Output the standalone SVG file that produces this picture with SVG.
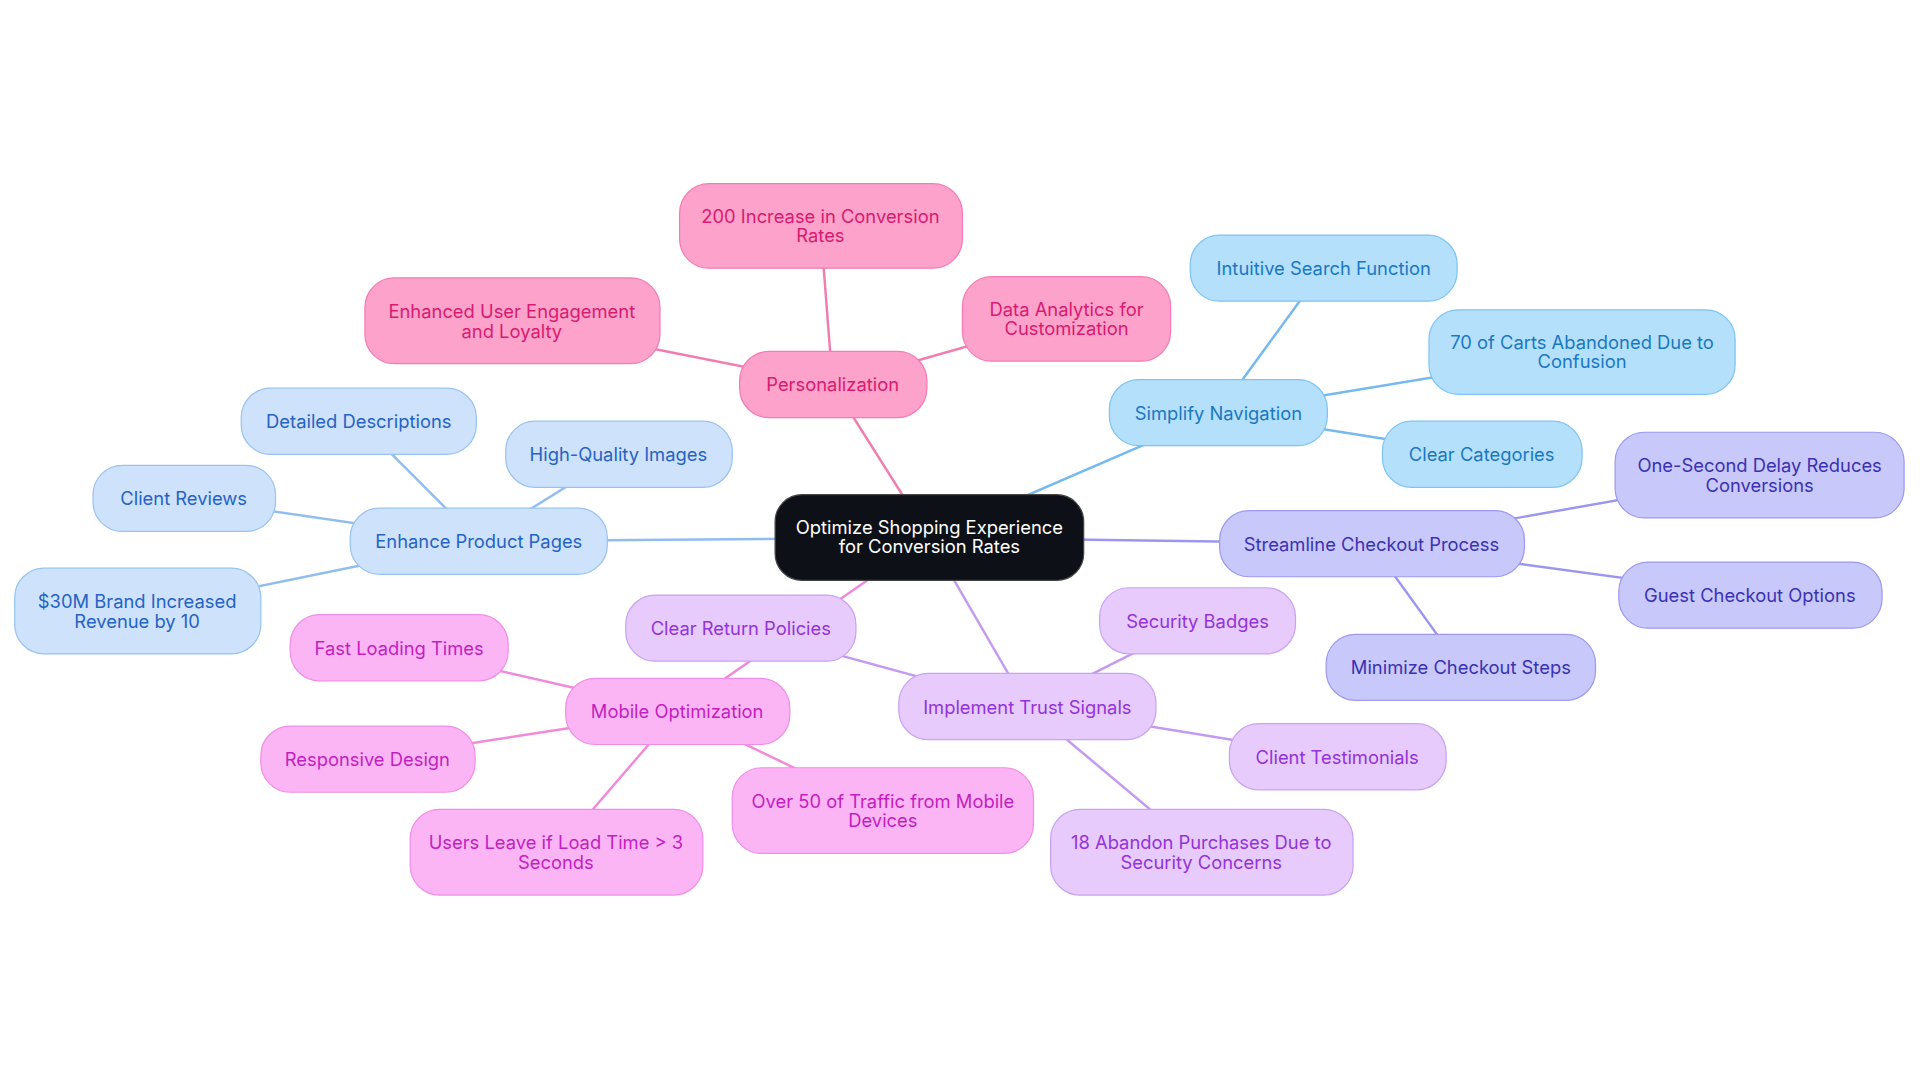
<svg xmlns="http://www.w3.org/2000/svg" width="1920" height="1083" viewBox="0 0 1920 1083">
<style>
text{font-family:Inter,"Noto Sans",sans-serif;font-size:15px;text-anchor:middle;dominant-baseline:central}
.e line{stroke-width:2}
.pk rect{fill:#fda2cb;stroke:#f47bb5}.pk text{fill:#d81b70}
.bl rect{fill:#b5e0fc;stroke:#7cc4f4}.bl text{fill:#1a78c2}
.lv rect{fill:#c9c8fb;stroke:#9e98f0}.lv text{fill:#3a32b0}
.pu rect{fill:#e6cbfc;stroke:#c9a2f3}.pu text{fill:#9333d8}
.mg rect{fill:#fbb5f4;stroke:#f08ee6}.mg text{fill:#c21fc0}
.lb rect{fill:#cfe2fb;stroke:#98c3f0}.lb text{fill:#2563c4}
</style>
<rect width="1920" height="1083" fill="#fff"/>
<g transform="scale(1.2245)">
<g id="connectors" class="e">
<g stroke="#f07cb0"><line x1="759" y1="439" x2="680" y2="314"/><line x1="680" y1="314" x2="670" y2="184"/><line x1="680" y1="314" x2="418" y2="262"/><line x1="680" y1="314" x2="871" y2="260"/></g>
<g stroke="#74b9f0"><line x1="759" y1="439" x2="995" y2="337"/><line x1="995" y1="337" x2="1081" y2="219"/><line x1="995" y1="337" x2="1292" y2="288"/><line x1="995" y1="337" x2="1210" y2="371"/></g>
<g stroke="#9b96ef"><line x1="759" y1="439" x2="1120" y2="444"/><line x1="1120" y1="444" x2="1437" y2="388"/><line x1="1120" y1="444" x2="1429" y2="486"/><line x1="1120" y1="444" x2="1193" y2="545"/></g>
<g stroke="#c49af0"><line x1="759" y1="439" x2="839" y2="577"/><line x1="839" y1="577" x2="978" y2="507"/><line x1="839" y1="577" x2="1092" y2="618"/><line x1="839" y1="577" x2="981" y2="696"/><line x1="839" y1="577" x2="605" y2="513"/></g>
<g stroke="#f08ad8"><line x1="759" y1="439" x2="553" y2="581"/><line x1="553" y1="581" x2="326" y2="529"/><line x1="553" y1="581" x2="300" y2="620"/><line x1="553" y1="581" x2="454" y2="696"/><line x1="553" y1="581" x2="721" y2="662"/></g>
<g stroke="#90bdf0"><line x1="759" y1="439" x2="391" y2="442"/><line x1="391" y1="442" x2="293" y2="344"/><line x1="391" y1="442" x2="505" y2="371"/><line x1="391" y1="442" x2="150" y2="407"/><line x1="391" y1="442" x2="112" y2="499"/></g>
</g>
<g id="center"><rect x="633" y="404" width="252" height="70" rx="22" fill="#0d1117" stroke="#444"/><text x="759" y="430" fill="#fff">Optimize Shopping Experience</text><text x="759" y="446" fill="#fff">for Conversion Rates</text></g>
<g id="personalization" class="pk"><rect x="604" y="287" width="153" height="54" rx="24"/><text x="680" y="314">Personalization</text></g>
<g id="p200" class="pk"><rect x="555" y="150" width="231" height="69" rx="24"/><text x="670" y="176">200 Increase in Conversion</text><text x="670" y="192">Rates</text></g>
<g id="enhanced" class="pk"><rect x="298" y="227" width="241" height="70" rx="24"/><text x="418" y="254">Enhanced User Engagement</text><text x="418" y="270">and Loyalty</text></g>
<g id="data" class="pk"><rect x="786" y="226" width="170" height="69" rx="24"/><text x="871" y="252">Data Analytics for</text><text x="871" y="268">Customization</text></g>
<g id="simplify" class="bl"><rect x="906" y="310" width="178" height="54" rx="24"/><text x="995" y="337">Simplify Navigation</text></g>
<g id="intuitive" class="bl"><rect x="972" y="192" width="218" height="54" rx="24"/><text x="1081" y="219">Intuitive Search Function</text></g>
<g id="carts" class="bl"><rect x="1167" y="253" width="250" height="69" rx="24"/><text x="1292" y="279">70 of Carts Abandoned Due to</text><text x="1292" y="295">Confusion</text></g>
<g id="clearcat" class="bl"><rect x="1129" y="344" width="163" height="54" rx="24"/><text x="1210" y="371">Clear Categories</text></g>
<g id="streamline" class="lv"><rect x="996" y="417" width="249" height="54" rx="24"/><text x="1120" y="444">Streamline Checkout Process</text></g>
<g id="onesec" class="lv"><rect x="1319" y="353" width="236" height="70" rx="24"/><text x="1437" y="380">One-Second Delay Reduces</text><text x="1437" y="396">Conversions</text></g>
<g id="guest" class="lv"><rect x="1322" y="459" width="215" height="54" rx="24"/><text x="1429" y="486">Guest Checkout Options</text></g>
<g id="minimize" class="lv"><rect x="1083" y="518" width="220" height="54" rx="24"/><text x="1193" y="545">Minimize Checkout Steps</text></g>
<g id="trust" class="pu"><rect x="734" y="550" width="210" height="54" rx="24"/><text x="839" y="577">Implement Trust Signals</text></g>
<g id="badges" class="pu"><rect x="898" y="480" width="160" height="54" rx="24"/><text x="978" y="507">Security Badges</text></g>
<g id="testimonials" class="pu"><rect x="1004" y="591" width="177" height="54" rx="24"/><text x="1092" y="618">Client Testimonials</text></g>
<g id="abandon18" class="pu"><rect x="858" y="661" width="247" height="70" rx="24"/><text x="981" y="688">18 Abandon Purchases Due to</text><text x="981" y="704">Security Concerns</text></g>
<g id="returns" class="pu"><rect x="511" y="486" width="188" height="54" rx="24"/><text x="605" y="513">Clear Return Policies</text></g>
<g id="mobile" class="mg"><rect x="462" y="554" width="183" height="54" rx="24"/><text x="553" y="581">Mobile Optimization</text></g>
<g id="fast" class="mg"><rect x="237" y="502" width="178" height="54" rx="24"/><text x="326" y="529">Fast Loading Times</text></g>
<g id="responsive" class="mg"><rect x="213" y="593" width="175" height="54" rx="24"/><text x="300" y="620">Responsive Design</text></g>
<g id="users" class="mg"><rect x="335" y="661" width="239" height="70" rx="24"/><text x="454" y="688">Users Leave if Load Time &gt; 3</text><text x="454" y="704">Seconds</text></g>
<g id="over50" class="mg"><rect x="598" y="627" width="246" height="70" rx="24"/><text x="721" y="654">Over 50 of Traffic from Mobile</text><text x="721" y="670">Devices</text></g>
<g id="enhance" class="lb"><rect x="286" y="415" width="210" height="54" rx="24"/><text x="391" y="442">Enhance Product Pages</text></g>
<g id="detailed" class="lb"><rect x="197" y="317" width="192" height="54" rx="24"/><text x="293" y="344">Detailed Descriptions</text></g>
<g id="images" class="lb"><rect x="413" y="344" width="185" height="54" rx="24"/><text x="505" y="371">High-Quality Images</text></g>
<g id="reviews" class="lb"><rect x="76" y="380" width="149" height="54" rx="24"/><text x="150" y="407">Client Reviews</text></g>
<g id="brand" class="lb"><rect x="12" y="464" width="201" height="70" rx="24"/><text x="112" y="491">$30M Brand Increased</text><text x="112" y="507">Revenue by 10</text></g>
</g>
</svg>
